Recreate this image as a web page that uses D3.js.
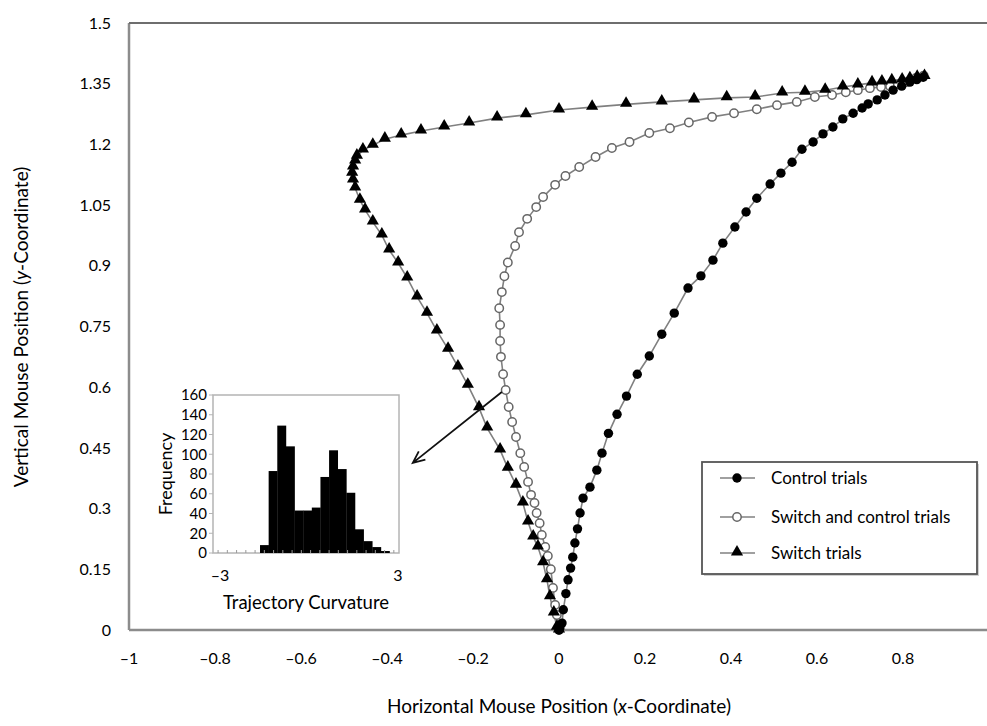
<!DOCTYPE html>
<html>
<head>
<meta charset="utf-8">
<script src="https://cdn.jsdelivr.net/npm/d3@7"></script>
<style>
    body { margin: 0; background: #fff; }
    svg { display: block; font-family: Lato, 'Open Sans', sans-serif; }
</style>
</head>
<body>
<svg id="chart" width="987" height="726"></svg>
<script>
// Axis ticks of the main chart
const xTicks = [-1, -0.8, -0.6, -0.4, -0.2, 0, 0.2, 0.4, 0.6, 0.8];
const yTicks = [0, 0.15, 0.3, 0.45, 0.6, 0.75, 0.9, 1.05, 1.2, 1.35, 1.5];

// Control trials (filled circles)
const controlX = [0, 0.002, 0.007, 0.01, 0.016, 0.021, 0.027, 0.032, 0.037, 0.043, 0.049, 0.056, 0.072, 0.088,
    0.1, 0.115, 0.135, 0.157, 0.182, 0.21, 0.239, 0.268, 0.3, 0.33, 0.358, 0.381, 0.409, 0.435, 0.46, 0.491,
    0.516, 0.542, 0.565, 0.591, 0.614, 0.637, 0.66, 0.684, 0.705, 0.719, 0.74, 0.758, 0.777, 0.797, 0.816,
    0.832, 0.847];
const controlY = [0, 0.005, 0.017, 0.05, 0.09, 0.124, 0.153, 0.18, 0.215, 0.25, 0.289, 0.326, 0.353, 0.395,
    0.437, 0.486, 0.533, 0.578, 0.632, 0.677, 0.731, 0.783, 0.845, 0.875, 0.914, 0.956, 0.996, 1.033, 1.067,
    1.102, 1.129, 1.156, 1.188, 1.206, 1.226, 1.243, 1.263, 1.277, 1.29, 1.3, 1.31, 1.322, 1.334, 1.344,
    1.354, 1.36, 1.366];

// Switch and control trials (open circles)
const mixedX = [0, 0, -0.005, -0.009, -0.014, -0.019, -0.026, -0.032, -0.04, -0.045, -0.052, -0.057, -0.065,
    -0.072, -0.081, -0.09, -0.1, -0.109, -0.117, -0.124, -0.13, -0.135, -0.137, -0.137, -0.139, -0.133,
    -0.127, -0.119, -0.102, -0.093, -0.074, -0.053, -0.037, -0.009, 0.015, 0.047, 0.085, 0.123, 0.164, 0.21,
    0.258, 0.302, 0.356, 0.407, 0.46, 0.507, 0.553, 0.595, 0.635, 0.667, 0.695, 0.723, 0.749, 0.77, 0.788,
    0.809, 0.83, 0.848];
const mixedY = [0, 0.007, 0.037, 0.062, 0.104, 0.15, 0.183, 0.205, 0.235, 0.264, 0.289, 0.314, 0.334, 0.366,
    0.403, 0.437, 0.477, 0.514, 0.551, 0.593, 0.632, 0.675, 0.714, 0.754, 0.795, 0.835, 0.874, 0.908, 0.949,
    0.983, 1.016, 1.045, 1.07, 1.1, 1.122, 1.144, 1.169, 1.191, 1.206, 1.228, 1.24, 1.254, 1.268, 1.277,
    1.287, 1.297, 1.305, 1.317, 1.322, 1.329, 1.334, 1.339, 1.342, 1.344, 1.349, 1.354, 1.364, 1.37];

// Switch trials (triangles)
const switchX = [0, -0.005, -0.012, -0.021, -0.028, -0.037, -0.049, -0.06, -0.072, -0.084, -0.1, -0.119,
    -0.137, -0.167, -0.186, -0.212, -0.235, -0.258, -0.284, -0.307, -0.33, -0.353, -0.374, -0.395, -0.412,
    -0.433, -0.451, -0.463, -0.474, -0.479, -0.481, -0.479, -0.474, -0.47, -0.456, -0.433, -0.405, -0.367,
    -0.321, -0.267, -0.209, -0.144, -0.077, 0, 0.077, 0.156, 0.239, 0.314, 0.39, 0.456, 0.519, 0.572, 0.619,
    0.66, 0.695, 0.728, 0.751, 0.774, 0.798, 0.816, 0.833, 0.85];
const switchY = [0, 0.007, 0.042, 0.082, 0.124, 0.166, 0.205, 0.23, 0.267, 0.314, 0.358, 0.4, 0.445, 0.499,
    0.549, 0.605, 0.65, 0.694, 0.739, 0.783, 0.823, 0.87, 0.907, 0.939, 0.976, 1.008, 1.038, 1.062, 1.092,
    1.112, 1.129, 1.144, 1.159, 1.171, 1.186, 1.198, 1.213, 1.223, 1.233, 1.243, 1.253, 1.265, 1.273, 1.285,
    1.292, 1.299, 1.305, 1.31, 1.315, 1.317, 1.327, 1.329, 1.334, 1.342, 1.347, 1.352, 1.354, 1.357, 1.359,
    1.362, 1.366, 1.368];

// Inset histogram of trajectory curvature
const histBinStarts = [-1.54, -1.26, -0.98, -0.7, -0.42, -0.14, 0.14, 0.42, 0.7, 0.98, 1.26, 1.54, 1.82,
    2.1, 2.38];
const histBinWidth = 0.28;
const histCounts = [8, 83, 129, 108, 43, 43, 46, 77, 104, 85, 61, 24, 12, 6, 2];
const histTicksY = [0, 20, 40, 60, 80, 100, 120, 140, 160];
const histTicksX = [-3, 3];
const histMinorTicks = [-2.9, -2.6, -2.3, -2.0, -1.7, -1.4, -1.1, -0.8, -0.5, -0.2, 0.1, 0.4, 0.7, 1.0, 1.3,
    1.6, 1.9, 2.2, 2.5, 2.8];

// Arrow from the open-circle curve to the inset (data coordinates)
const arrowFrom = [-0.133, 0.588];
const arrowTo = [-0.34, 0.413];

const legendItems = ['Control trials', 'Switch and control trials', 'Switch trials'];

const minus = (v) => (v < 0 ? '\u2013' + Math.abs(v) : `${v}`);

function drawChart(svg) {
    svg.selectAll('*').remove();

    const xScale = d3.scaleLinear().domain([-1, 1]).range([129, 989]);
    const yScale = d3.scaleLinear().domain([0, 1.5]).range([630, 23]);
    const axisColor = '#8c8c8c';
    const lineColor = '#808080';

    // frame: left, bottom, top
    const frame = svg.append('g').attr('stroke', axisColor).attr('stroke-width', 2.5);
    frame.append('line').attr('x1', xScale(-1)).attr('x2', xScale(-1)).attr('y1', yScale(1.5)).attr('y2', yScale(0));
    frame.append('line').attr('x1', xScale(-1)).attr('x2', 987).attr('y1', yScale(0)).attr('y2', yScale(0));
    frame.append('line').attr('x1', xScale(-1)).attr('x2', 987).attr('y1', yScale(1.5)).attr('y2', yScale(1.5))
        .attr('stroke', '#6e6e6e').attr('stroke-width', 2);

    // y tick labels
    svg.append('g')
        .selectAll('text')
        .data(yTicks)
        .join('text')
        .attr('x', 111)
        .attr('y', (d) => yScale(d))
        .attr('dy', '0.35em')
        .attr('text-anchor', 'end')
        .attr('font-size', 16)
        .text((d) => `${d}`);

    // x tick labels
    svg.append('g')
        .selectAll('text')
        .data(xTicks)
        .join('text')
        .attr('x', (d) => xScale(d))
        .attr('y', 658)
        .attr('dy', '0.35em')
        .attr('text-anchor', 'middle')
        .attr('font-size', 16)
        .text((d) => minus(d));

    // axis titles
    const xTitle = svg.append('text')
        .attr('x', xScale(0))
        .attr('y', 713)
        .attr('text-anchor', 'middle')
        .attr('font-size', 19);
    xTitle.append('tspan').text('Horizontal Mouse Position (');
    xTitle.append('tspan').attr('font-style', 'italic').text('x');
    xTitle.append('tspan').text('-Coordinate)');

    const yTitle = svg.append('text')
        .attr('transform', `translate(28, 327) rotate(-90)`)
        .attr('text-anchor', 'middle')
        .attr('font-size', 19);
    yTitle.append('tspan').text('Vertical Mouse Position (');
    yTitle.append('tspan').attr('font-style', 'italic').text('y');
    yTitle.append('tspan').text('-Coordinate)');

    // series
    const line = d3.line().x((d) => xScale(d[0])).y((d) => yScale(d[1]));
    const mixed = d3.zip(mixedX, mixedY);
    const control = d3.zip(controlX, controlY);
    const switched = d3.zip(switchX, switchY);
    const triangle = d3.symbol().type(d3.symbolTriangle).size(64);

    [mixed, control, switched].forEach((pts) => {
        svg.append('path')
            .attr('fill', 'none')
            .attr('stroke', lineColor)
            .attr('stroke-width', 1.6)
            .attr('d', line(pts));
    });

    svg.append('g')
        .selectAll('circle')
        .data(mixed)
        .join('circle')
        .attr('cx', (d) => xScale(d[0]))
        .attr('cy', (d) => yScale(d[1]))
        .attr('r', 4.2)
        .attr('fill', '#fff')
        .attr('stroke', '#666')
        .attr('stroke-width', 1.5);

    svg.append('g')
        .selectAll('circle')
        .data(control)
        .join('circle')
        .attr('cx', (d) => xScale(d[0]))
        .attr('cy', (d) => yScale(d[1]))
        .attr('r', 4.7)
        .attr('fill', '#000');

    svg.append('g')
        .selectAll('path')
        .data(switched)
        .join('path')
        .attr('transform', (d) => `translate(${xScale(d[0])}, ${yScale(d[1]) - 1})`)
        .attr('d', triangle)
        .attr('fill', '#000');

    // arrow
    const ax1 = xScale(arrowFrom[0]), ay1 = yScale(arrowFrom[1]);
    const ax2 = xScale(arrowTo[0]), ay2 = yScale(arrowTo[1]);
    const ang = Math.atan2(ay2 - ay1, ax2 - ax1);
    const head = 13, spread = 0.42;
    svg.append('path')
        .attr('fill', 'none')
        .attr('stroke', '#111')
        .attr('stroke-width', 1.8)
        .attr('d', `M${ax1},${ay1}L${ax2},${ay2}` +
            `M${ax2 - head * Math.cos(ang - spread)},${ay2 - head * Math.sin(ang - spread)}` +
            `L${ax2},${ay2}L${ax2 - head * Math.cos(ang + spread)},${ay2 - head * Math.sin(ang + spread)}`);

    drawInset(svg);
    drawLegend(svg, lineColor, triangle);
}

function drawInset(svg) {
    const hx = d3.scaleLinear().domain([-3, 3]).range([215, 400]);
    const hy = d3.scaleLinear().domain([0, 160]).range([553, 395]);
    const g = svg.append('g');

    g.append('rect')
        .attr('x', 213).attr('y', hy(160))
        .attr('width', 186).attr('height', hy(0) - hy(160))
        .attr('fill', '#fff')
        .attr('stroke', '#b4b4b4')
        .attr('stroke-width', 1.5);

    g.selectAll('.bar')
        .data(histCounts)
        .join('rect')
        .attr('x', (d, i) => hx(histBinStarts[i]))
        .attr('width', (d, i) => hx(histBinStarts[i] + histBinWidth) - hx(histBinStarts[i]) + 0.3)
        .attr('y', (d) => hy(d))
        .attr('height', (d) => hy(0) - hy(d))
        .attr('fill', '#000');

    // small ticks on the left edge and along the bottom
    g.selectAll('.ty')
        .data(histTicksY)
        .join('line')
        .attr('x1', 209).attr('x2', 213)
        .attr('y1', (d) => hy(d)).attr('y2', (d) => hy(d))
        .attr('stroke', '#b4b4b4');
    g.selectAll('.tx')
        .data(histMinorTicks)
        .join('line')
        .attr('x1', (d) => hx(d)).attr('x2', (d) => hx(d))
        .attr('y1', hy(0)).attr('y2', hy(0) - 3)
        .attr('stroke', '#999');

    g.selectAll('.ly')
        .data(histTicksY)
        .join('text')
        .attr('x', 207)
        .attr('y', (d) => hy(d))
        .attr('dy', '0.35em')
        .attr('text-anchor', 'end')
        .attr('font-size', 15)
        .text((d) => `${d}`);

    g.selectAll('.lx')
        .data(histTicksX)
        .join('text')
        .attr('x', (d) => hx(d) + (d < 0 ? 5 : -2))
        .attr('y', 575)
        .attr('dy', '0.35em')
        .attr('text-anchor', 'middle')
        .attr('font-size', 16)
        .text((d) => minus(d));

    g.append('text')
        .attr('x', (213 + 399) / 2)
        .attr('y', 603)
        .attr('dy', '0.35em')
        .attr('text-anchor', 'middle')
        .attr('font-size', 18.5)
        .text('Trajectory Curvature');

    g.append('text')
        .attr('transform', `translate(172, ${(395 + 553) / 2}) rotate(-90)`)
        .attr('text-anchor', 'middle')
        .attr('font-size', 18)
        .text('Frequency');
}

function drawLegend(svg, lineColor, triangle) {
    const g = svg.append('g');
    g.append('rect')
        .attr('x', 704).attr('y', 464).attr('width', 275).attr('height', 112)
        .attr('fill', '#d0d0d0');
    g.append('rect')
        .attr('x', 702).attr('y', 462).attr('width', 275).attr('height', 112)
        .attr('fill', '#fff')
        .attr('stroke', '#555')
        .attr('stroke-width', 1.8);

    const rows = [478, 517, 553];
    legendItems.forEach((name, i) => {
        const y = rows[i];
        g.append('line')
            .attr('x1', 720).attr('x2', 755).attr('y1', y).attr('y2', y)
            .attr('stroke', lineColor).attr('stroke-width', 1.6);
        if (i === 0) {
            g.append('circle').attr('cx', 737).attr('cy', y).attr('r', 4.7).attr('fill', '#000');
        } else if (i === 1) {
            g.append('circle').attr('cx', 737).attr('cy', y).attr('r', 4.2)
                .attr('fill', '#fff').attr('stroke', '#666').attr('stroke-width', 1.5);
        } else {
            g.append('path').attr('transform', `translate(737, ${y - 1})`).attr('d', triangle).attr('fill', '#000');
        }
        g.append('text')
            .attr('x', 771)
            .attr('y', y)
            .attr('dy', '0.35em')
            .attr('font-size', 17)
            .text(name);
    });
}

window.addEventListener('DOMContentLoaded', () => {
    drawChart(d3.select('#chart'));
});
</script>
</body>
</html>
